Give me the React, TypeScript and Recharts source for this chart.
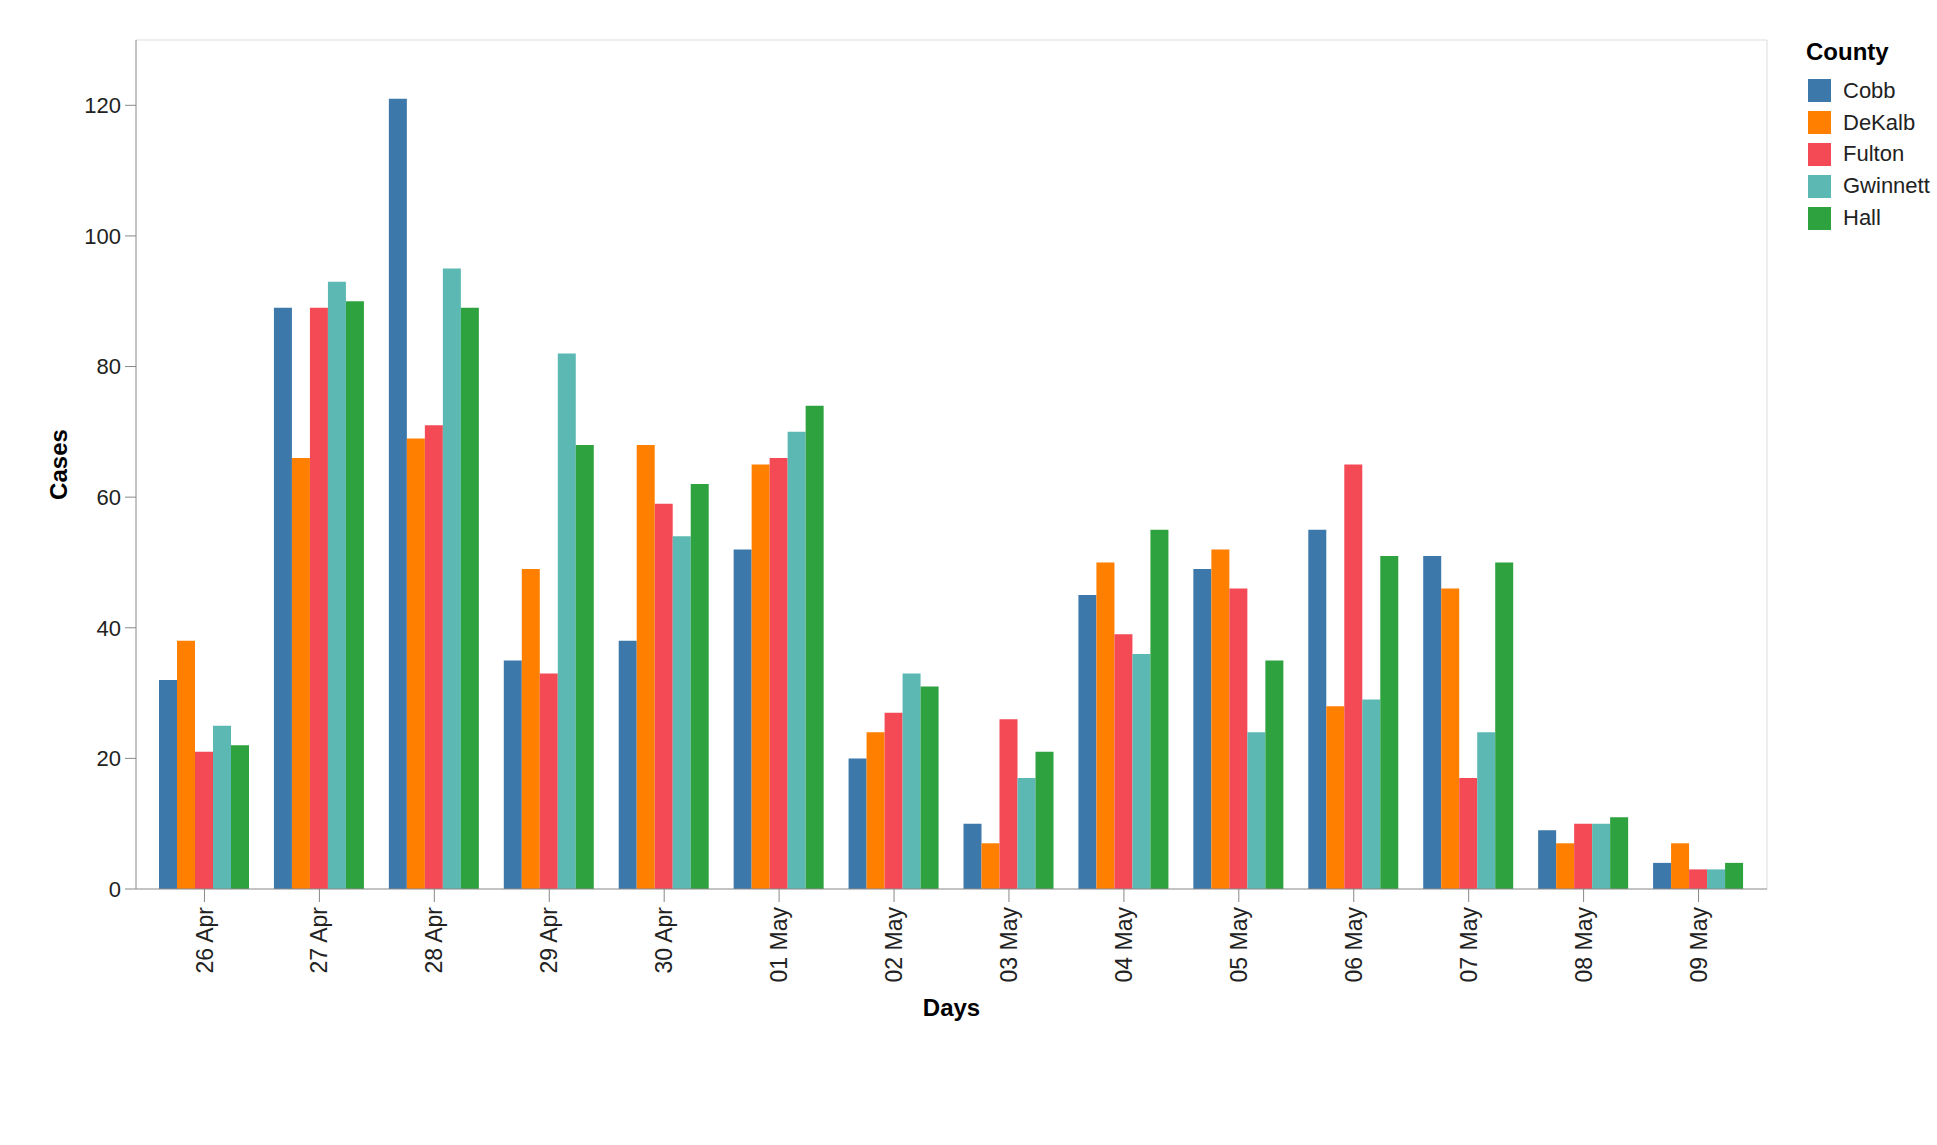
import { BarChart, Bar, XAxis, YAxis, CartesianGrid, Label } from "recharts";

const days = [
  "26 Apr", "27 Apr", "28 Apr", "29 Apr", "30 Apr", "01 May", "02 May",
  "03 May", "04 May", "05 May", "06 May", "07 May", "08 May", "09 May",
];
const cobb = [32, 89, 121, 35, 38, 52, 20, 10, 45, 49, 55, 51, 9, 4];
const dekalb = [38, 66, 69, 49, 68, 65, 24, 7, 50, 52, 28, 46, 7, 7];
const fulton = [21, 89, 71, 33, 59, 66, 27, 26, 39, 46, 65, 17, 10, 3];
const gwinnett = [25, 93, 95, 82, 54, 70, 33, 17, 36, 24, 29, 24, 10, 3];
const hall = [22, 90, 89, 68, 62, 74, 31, 21, 55, 35, 51, 50, 11, 4];
const yTicks = [0, 20, 40, 60, 80, 100, 120];

const counties = [
  { name: "Cobb", values: cobb, color: "#3d78ab" },
  { name: "DeKalb", values: dekalb, color: "#ff7f00" },
  { name: "Fulton", values: fulton, color: "#f44a56" },
  { name: "Gwinnett", values: gwinnett, color: "#5bb8b2" },
  { name: "Hall", values: hall, color: "#2ea23f" },
];

const data = days.map((d, i) => {
  const row: Record<string, string | number> = { day: d };
  counties.forEach((c) => (row[c.name] = c.values[i]));
  return row;
});

const FONT = "'Liberation Sans', Arial, Helvetica, sans-serif";

const XTick = ({ x, y, payload }: any) => (
  <text
    x={x}
    y={y}
    transform={`rotate(-90 ${x} ${y})`}
    textAnchor="end"
    dy="0.35em"
    fontSize={23}
    fontFamily={FONT}
    fill="#222"
  >
    {payload.value}
  </text>
);

export default function App() {
  return (
    <div style={{ position: "relative", width: 1937, height: 1145, background: "#fff", fontFamily: FONT }}>
      <style>{`body{margin:0}`}</style>
      <BarChart
        width={1937}
        height={1145}
        data={data}
        margin={{ top: 40, right: 170, left: 0, bottom: 136 }}
        barCategoryGap={12}
        barGap={0}
      >
        <CartesianGrid
          stroke="#ddd"
          horizontalCoordinatesGenerator={({ offset }: any) => [offset.top]}
          verticalCoordinatesGenerator={({ offset }: any) => [offset.left + offset.width]}
        />
        <XAxis
          dataKey="day"
          height={120}
          padding={{ left: 11, right: 11 }}
          tick={<XTick />}
          tickSize={13}
          tickMargin={5}
          interval={0}
          stroke="#888"
        >
          <Label
            content={({ viewBox }: any) => (
              <text
                x={viewBox.x + viewBox.width / 2}
                y={viewBox.y + 127}
                textAnchor="middle"
                fontSize={24}
                fontWeight="bold"
                fontFamily={FONT}
                fill="#000"
              >
                Days
              </text>
            )}
          />
        </XAxis>
        <YAxis
          width={136}
          domain={[0, 130]}
          ticks={yTicks}
          tickSize={11}
          tickMargin={4}
          stroke="#888"
          tick={{ fontSize: 22, fill: "#222", fontFamily: FONT }}
        >
          <Label
            content={({ viewBox }: any) => {
              const cx = viewBox.x + 59;
              const cy = viewBox.y + viewBox.height / 2;
              return (
                <text
                  x={cx}
                  y={cy}
                  transform={`rotate(-90 ${cx} ${cy})`}
                  textAnchor="middle"
                  dy="0.35em"
                  fontSize={24}
                  fontWeight="bold"
                  fontFamily={FONT}
                  fill="#000"
                >
                  Cases
                </text>
              );
            }}
          />
        </YAxis>
        {counties.map((c) => (
          <Bar key={c.name} dataKey={c.name} fill={c.color} isAnimationActive={false} />
        ))}
      </BarChart>

      {/* legend */}
      <div style={{ position: "absolute", left: 1806, top: 36 }}>
        <div style={{ fontSize: 24, fontWeight: "bold", color: "#000", lineHeight: "32px", height: 39 }}>
          County
        </div>
        {counties.map((c) => (
          <div key={c.name} style={{ display: "flex", alignItems: "center", height: 31.8 }}>
            <div style={{ width: 23, height: 23, background: c.color, marginLeft: 2 }} />
            <span style={{ fontSize: 22, color: "#222", marginLeft: 12 }}>{c.name}</span>
          </div>
        ))}
      </div>
    </div>
  );
}
